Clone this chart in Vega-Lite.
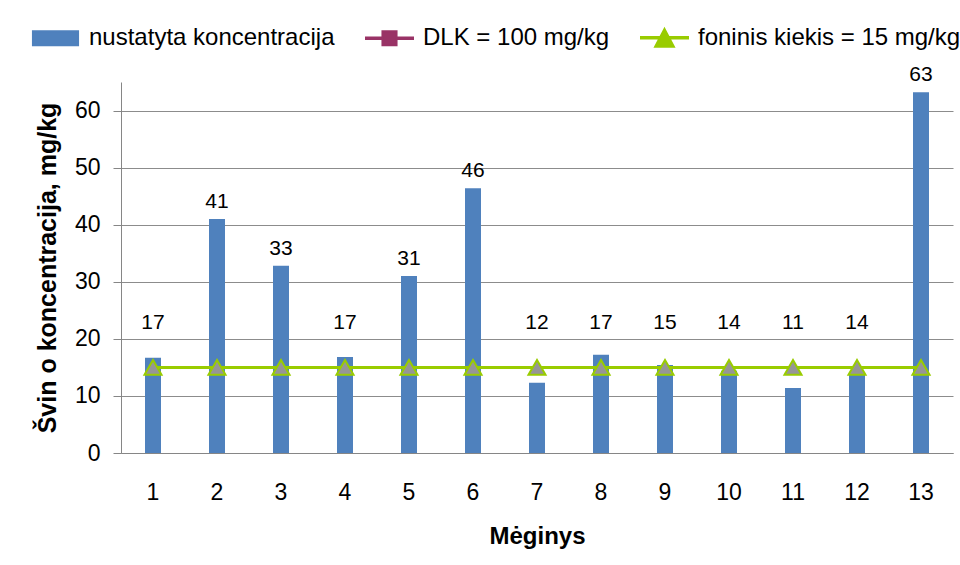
{
  "$schema": "https://vega.github.io/schema/vega-lite/v6.json",
  "autosize": {"type": "none"},
  "width": 832,
  "height": 371,
  "padding": {"left": 121, "top": 82, "right": 7, "bottom": 112},
  "background": "white",
  "config": {
    "font": "Liberation Sans",
    "view": {"stroke": null},
    "axis": {"labelFont": "Liberation Sans", "titleFont": "Liberation Sans", "labelColor": "#000000", "titleColor": "#000000", "domainColor": "#868686", "tickColor": "#868686", "gridColor": "#8c8c8c"},
    "legend": {"labelFont": "Liberation Sans", "labelLimit": 0}
  },
  "data": {
    "values": [
      {"m": 1, "v": 16.7, "dlk": 100, "fon": 15},
      {"m": 2, "v": 41.0, "dlk": 100, "fon": 15},
      {"m": 3, "v": 32.8, "dlk": 100, "fon": 15},
      {"m": 4, "v": 16.8, "dlk": 100, "fon": 15},
      {"m": 5, "v": 31.0, "dlk": 100, "fon": 15},
      {"m": 6, "v": 46.4, "dlk": 100, "fon": 15},
      {"m": 7, "v": 12.3, "dlk": 100, "fon": 15},
      {"m": 8, "v": 17.2, "dlk": 100, "fon": 15},
      {"m": 9, "v": 15.4, "dlk": 100, "fon": 15},
      {"m": 10, "v": 14.4, "dlk": 100, "fon": 15},
      {"m": 11, "v": 11.4, "dlk": 100, "fon": 15},
      {"m": 12, "v": 14.2, "dlk": 100, "fon": 15},
      {"m": 13, "v": 63.2, "dlk": 100, "fon": 15}
    ]
  },
  "encoding": {
    "x": {
      "field": "m", "type": "ordinal", "title": "Mėginys",
      "scale": {"paddingInner": 0, "paddingOuter": 0},
      "axis": {"labelAngle": 0, "ticks": false, "tickSize": 0, "labelFontSize": 23, "labelPadding": 28, "titleFontSize": 24, "titleFontWeight": "bold", "titlePadding": 20, "grid": false}
    }
  },
  "layer": [
    {
      "mark": {"type": "bar", "size": 16, "color": "#4F81BD"},
      "encoding": {
        "y": {
          "field": "v", "type": "quantitative", "title": "Švin o koncentracija, mg/kg",
          "scale": {"domain": [0, 65], "nice": false},
          "axis": {"values": [0, 10, 20, 30, 40, 50, 60], "grid": true, "tickSize": 8, "labelFontSize": 23, "labelPadding": 13, "titleFontSize": 25, "titleFontWeight": "bold", "titlePadding": 14}
        },
        "color": {
          "datum": "nustatyta koncentracija",
          "type": "nominal",
          "scale": {"domain": ["nustatyta koncentracija", "DLK = 100 mg/kg", "foninis kiekis = 15 mg/kg"], "range": ["#4F81BD", "#993366", "#99CC00"]},
          "legend": {
            "title": null,
            "orient": "none",
            "legendX": -90,
            "legendY": -69,
            "direction": "horizontal",
            "labelFontSize": 24,
            "labelLimit": 0,
            "labelColor": "#000000",
            "labelOffset": 9,
            "columnPadding": 27,
            "symbolSize": 2209,
            "symbolStrokeWidth": 2,
            "encode": {
              "symbols": {
                "update": {
                  "shape": {"signal": "datum.value === 'nustatyta koncentracija' ? 'M-0.96,-0.3H0.96V0.3H-0.96Z' : datum.value === 'DLK = 100 mg/kg' ? 'M-1,-0.03H-0.32V0.03H-1Z M0.32,-0.03H1V0.03H0.32Z M-0.3,-0.3H0.3V0.3H-0.3Z' : 'M-1,-0.03H-0.22V0.03H-1Z M0.22,-0.03H1V0.03H0.22Z M0,-0.38L0.4,0.38H-0.4Z'"},
                  "fill": {"signal": "datum.value === 'nustatyta koncentracija' ? '#4F81BD' : datum.value === 'DLK = 100 mg/kg' ? '#993366' : '#969696'"},
                  "stroke": {"signal": "datum.value === 'nustatyta koncentracija' ? '#4F81BD' : datum.value === 'DLK = 100 mg/kg' ? '#993366' : '#99CC00'"},
                  "strokeWidth": {"value": 2},
                  "opacity": {"value": 1},
                  "fillOpacity": {"value": 1}
                }
              }
            }
          }
        }
      }
    },
    {
      "mark": {"type": "line", "strokeWidth": 3, "clip": true},
      "encoding": {
        "y": {"field": "dlk", "type": "quantitative"},
        "color": {"datum": "DLK = 100 mg/kg", "type": "nominal"}
      }
    },
    {
      "mark": {"type": "line", "strokeWidth": 3},
      "encoding": {
        "y": {"field": "fon", "type": "quantitative"},
        "color": {"datum": "foninis kiekis = 15 mg/kg", "type": "nominal"}
      }
    },
    {
      "mark": {"type": "point", "shape": "triangle-up", "size": 290, "filled": true, "fill": "#969696", "stroke": "#99CC00", "strokeWidth": 2, "opacity": 1},
      "encoding": {
        "y": {"field": "fon", "type": "quantitative"}
      }
    },
    {
      "transform": [{"calculate": "max(datum.v + 3, 22.8)", "as": "labelY"}],
      "mark": {"type": "text", "fontSize": 21, "color": "#000000", "baseline": "middle", "font": "Liberation Sans"},
      "encoding": {
        "y": {"field": "labelY", "type": "quantitative"},
        "text": {"field": "v", "type": "quantitative", "format": ".0f"}
      }
    }
  ]
}
